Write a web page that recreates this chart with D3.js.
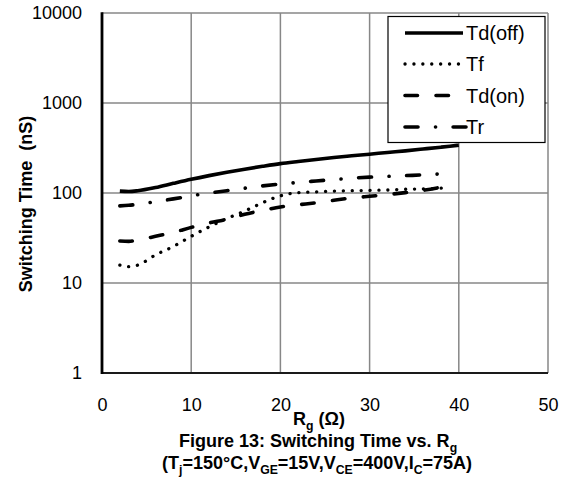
<!DOCTYPE html>
<html>
<head>
<meta charset="utf-8">
<script src="https://cdn.jsdelivr.net/npm/d3@7"></script>
<style>
  html, body { margin: 0; padding: 0; background: #fff; }
  svg { display: block; font-family: "Liberation Sans", Arial, sans-serif; }
</style>
</head>
<body>
<svg id="chart" width="570" height="484"></svg>
<script>
// Gate resistance (ohm) sample points
const rg = [2, 3, 4, 6, 8, 10, 12, 14, 16, 18, 20, 22, 24, 26, 28, 30, 32, 34, 36, 38, 39, 40];

// Switching times (nS) at each Rg; null where a curve stops
const tdOff = [105, 104, 106, 115, 128, 142, 156, 170, 184, 198, 212, 224, 236, 248, 259, 270, 282, 294, 308, 323, 331, 340];
const tf    = [15.8, 15.2, 15.8, 20.5, 25.5, 33, 42, 52, 63, 78, 93, 101, 103, 105, 106, 107, 108, 110, 111, 113, 117, null];
const tdOn  = [29.3, 29, 30, 33, 36.5, 41.5, 46.5, 51, 58, 64, 70, 74, 78, 83, 88, 92, 96, 101, 107, 116, null, null];
const tr    = [72, 73, 75, 80, 86, 93, 100, 106, 113, 120, 126, 131, 136, 141, 146, 150, 153, 156, 159, 163, null, null];

const seriesNames = ["Td(off)", "Tf", "Td(on)", "Tr"];
const seriesValues = [tdOff, tf, tdOn, tr];

const xTicks = [0, 10, 20, 30, 40, 50];
const yTicks = [1, 10, 100, 1000, 10000];

// Line styles per series
const styles = [
  { width: 3.6, dash: null,                 cap: "butt",  legendEnd: 463 },
  { width: 3.3, dash: "0.1 8.8",            cap: "round", legendEnd: 459 },
  { width: 3.6, dash: "12.5 18.5",          cap: "round", legendEnd: 451 },
  { width: 3.6, dash: "13 17.5 0.1 17.5",   cap: "round", legendEnd: 466 }
];

const svg = d3.select("#chart");
const plot = { left: 102, right: 548, top: 13, bottom: 373 };

const x = d3.scaleLinear().domain([0, 50]).range([plot.left, plot.right]);
const y = d3.scaleLog().domain([1, 10000]).range([plot.bottom, plot.top]);

// Grid
const grid = svg.append("g").attr("stroke", "#878787").attr("stroke-width", 1.5);
grid.selectAll("line.h").data(yTicks.filter(d => d > 1)).join("line")
  .attr("x1", plot.left).attr("x2", plot.right)
  .attr("y1", d => y(d)).attr("y2", d => y(d));
grid.selectAll("line.v").data(xTicks.filter(d => d > 0)).join("line")
  .attr("x1", d => x(d)).attr("x2", d => x(d))
  .attr("y1", plot.top).attr("y2", plot.bottom);

// Axes
const yAxis = d3.axisLeft(y).tickValues(yTicks).tickFormat(d3.format("d")).tickSize(0).tickPadding(20);
const xAxis = d3.axisBottom(x).tickValues(xTicks).tickFormat(d3.format("d")).tickSize(0).tickPadding(25);

const gy = svg.append("g").attr("transform", `translate(${plot.left},0)`).call(yAxis);
const gx = svg.append("g").attr("transform", `translate(0,${plot.bottom})`).call(xAxis);
[gy, gx].forEach(g => {
  g.select(".domain").remove();
  g.selectAll("text").attr("font-size", 18).attr("fill", "#000")
    .attr("font-family", "'Liberation Sans', Arial, sans-serif");
});

svg.append("line").attr("x1", plot.left).attr("x2", plot.right)
  .attr("y1", plot.bottom).attr("y2", plot.bottom)
  .attr("stroke", "#1a1a1a").attr("stroke-width", 2);
svg.append("line").attr("x1", plot.left).attr("x2", plot.left)
  .attr("y1", plot.top - 0.75).attr("y2", plot.bottom + 1)
  .attr("stroke", "#000").attr("stroke-width", 2.8);

// Curves
const line = d3.line()
  .defined(d => d[1] != null)
  .x(d => x(d[0]))
  .y(d => y(d[1]))
  .curve(d3.curveMonotoneX);

seriesValues.forEach((vals, i) => {
  const pts = rg.map((r, k) => [r, vals[k]]);
  const st = styles[i];
  svg.append("path")
    .datum(pts)
    .attr("d", line)
    .attr("fill", "none")
    .attr("stroke", "#000")
    .attr("stroke-width", st.width)
    .attr("stroke-linecap", st.cap)
    .attr("stroke-linejoin", "round")
    .attr("stroke-dasharray", st.dash);
});

// Legend
const legend = svg.append("g");
legend.append("rect")
  .attr("x", 388).attr("y", 16.5).attr("width", 157).attr("height", 126)
  .attr("fill", "#fff").attr("stroke", "#000").attr("stroke-width", 1.2);
const rowY = [33, 64, 95.5, 127];
seriesNames.forEach((name, i) => {
  const st = styles[i];
  legend.append("line")
    .attr("x1", 405).attr("x2", st.legendEnd)
    .attr("y1", rowY[i]).attr("y2", rowY[i])
    .attr("stroke", "#000")
    .attr("stroke-width", st.width)
    .attr("stroke-linecap", st.cap)
    .attr("stroke-dasharray", st.dash);
  legend.append("text")
    .attr("x", 466).attr("y", rowY[i]).attr("dy", "0.36em")
    .attr("font-size", 20).attr("fill", "#000")
    .text(name);
});

// Axis titles and caption
svg.append("text")
  .attr("transform", "translate(32,204) rotate(-90)")
  .attr("text-anchor", "middle")
  .attr("font-size", 18).attr("font-weight", "bold")
  .style("white-space", "pre")
  .text("Switching Time  (nS)");

// Bold text line with subscripted runs: parts = [[text, isSub], ...]
function subText(xc, yb, parts, size) {
  const shift = 5;
  const t = svg.append("text")
    .attr("x", xc).attr("y", yb)
    .attr("text-anchor", "middle")
    .attr("font-size", size).attr("font-weight", "bold")
    .attr("fill", "#000");
  let offset = 0;
  parts.forEach(([str, isSub]) => {
    const target = isSub ? shift : 0;
    t.append("tspan")
      .attr("dy", target - offset)
      .attr("font-size", isSub ? size * 0.68 : size)
      .text(str);
    offset = target;
  });
  return t;
}

subText(319, 425, [["R", false], ["g", true], [" (Ω)", false]], 18);
subText(318, 447, [["Figure 13: Switching Time vs. R", false], ["g", true]], 18);
subText(317, 469, [
  ["(T", false], ["j", true], ["=150°C,V", false], ["GE", true], ["=15V,V", false], ["CE", true],
  ["=400V,I", false], ["C", true], ["=75A)", false]
], 18);
</script>
</body>
</html>
